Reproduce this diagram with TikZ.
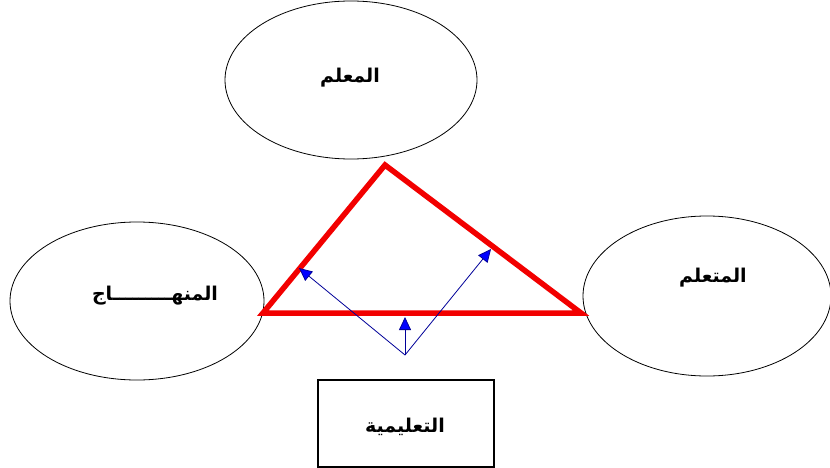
\documentclass[tikz,border=0pt]{standalone}
\usepackage{fontspec}
\TeXXeTstate=1
\newfontfamily\arabicfont[Script=Arabic]{DejaVu Sans}
\usetikzlibrary{arrows.meta}
\begin{document}
\begin{tikzpicture}[x=1pt,y=-1pt,
  lbl/.style={font=\arabicfont\bfseries\fontsize{19}{22}\selectfont},
  tri/.style={draw=red!95!black,line width=5.5pt,line join=miter},
  blue arrow/.style={draw=blue!60!black,line width=0.8pt,-{Triangle[length=13pt,width=12pt,fill=blue]}}]
\useasboundingbox (0,0) rectangle (830,468);
\clip (0,0) rectangle (830,468);
\fill[white] (0,0) rectangle (830,468);
% ellipses
\draw[line width=0.8pt] (351,80) ellipse [x radius=126, y radius=79];
\node (teacher) at (351,80) {};
\draw[line width=0.8pt] (137,301) ellipse [x radius=127, y radius=79];
\node (curr) at (137,301) {};
\draw[line width=0.8pt] (707,296) ellipse [x radius=124, y radius=80];
\node (learner) at (707,296) {};
% labels
\node[lbl] (tlab) at (350,78) {\beginR المعلم\endR};
\node[lbl] (llab) at (155,296) {\beginR المنهـــــــــاج\endR};
\node[lbl] (rlab) at (713,278) {\beginR المتعلم\endR};
% triangle
\coordinate (A) at (385,165);
\coordinate (B) at (263,313);
\coordinate (C) at (581,313);
\draw[tri] (A) -- (C) -- (B) -- cycle;
% box
\node[draw=black,line width=1.6pt,minimum width=176pt,minimum height=87pt,inner sep=0pt,anchor=north west] (proc) at (317,379) {};
\node[lbl] (plab) at (405,427) {\beginR التعليمية\endR};
% blue arrows
\coordinate (O) at (405,355);
\coordinate (P1) at (299,268);
\coordinate (P2) at (491,249);
\coordinate (P3) at (405,317);
\draw[blue arrow] (O) -- (P1);
\draw[blue arrow] (O) -- (P2);
\draw[blue arrow] (O) -- (P3);
\end{tikzpicture}
\end{document}
